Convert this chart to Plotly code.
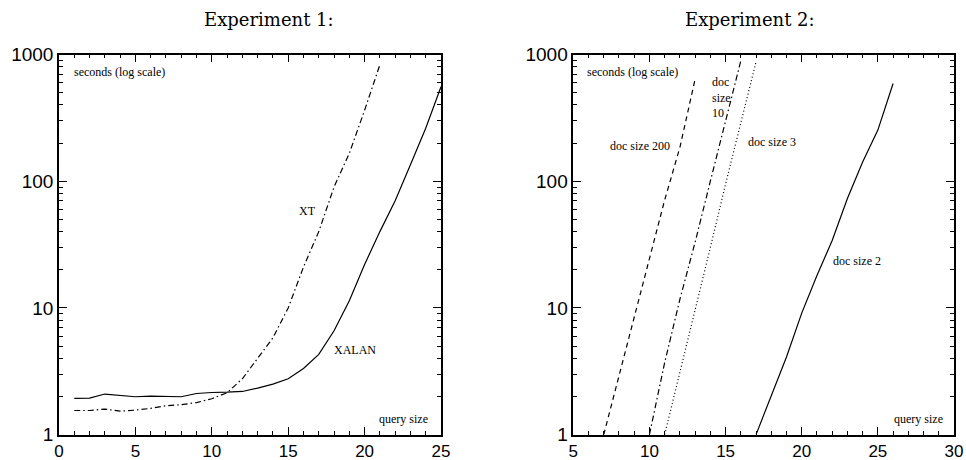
import plotly.graph_objects as go

# ---- data ----
exp1_x = list(range(1, 26))
xt_x = list(range(1, 22))
xt_y = [1.55, 1.55, 1.59, 1.53, 1.56, 1.61, 1.69, 1.72, 1.79, 1.92, 2.14, 2.76,
        4.0, 5.8, 10, 21, 40, 90, 166, 363, 830]
xalan_y = [1.93, 1.94, 2.09, 2.03, 1.99, 2.01, 2.01, 1.99, 2.11, 2.15, 2.16, 2.19,
           2.33, 2.5, 2.76, 3.33, 4.3, 6.6, 11.4, 22, 40, 70, 135, 262, 557]

d200_x = [7, 8, 9, 10, 11, 12, 13]
d200_y = [1.0, 2.9, 8.3, 25, 71, 185, 640]
d10_x = [10, 11, 12, 13, 14, 15, 16]
d10_y = [1.0, 3.7, 11.7, 33, 100, 300, 890]
d3_x = [11, 12, 13, 14, 15, 16, 17]
d3_y = [1.0, 3.05, 9.5, 30, 95, 295, 875]
d2_x = [17, 18, 19, 20, 21, 22, 23, 24, 25, 26]
d2_y = [1.0, 2.0, 4.1, 9.1, 18, 34, 73, 142, 253, 590]

y_ticks = [1, 10, 100, 1000]
y_ticktext = ["1", "10", "100", "1000"]
y_minor = [v * m for m in (1, 10, 100) for v in range(2, 10)]

fig = go.Figure()
lw = 1.2
fig.add_trace(go.Scatter(x=xt_x, y=xt_y, mode="lines", xaxis="x", yaxis="y",
                         line=dict(color="black", width=lw, dash="6px,3px,1.5px,3px")))
fig.add_trace(go.Scatter(x=exp1_x, y=xalan_y, mode="lines", xaxis="x", yaxis="y",
                         line=dict(color="black", width=lw)))
fig.add_trace(go.Scatter(x=d200_x, y=d200_y, mode="lines", xaxis="x2", yaxis="y2",
                         line=dict(color="black", width=lw, dash="5px,4px")))
fig.add_trace(go.Scatter(x=d10_x, y=d10_y, mode="lines", xaxis="x2", yaxis="y2",
                         line=dict(color="black", width=lw, dash="6px,3px,1.5px,3px")))
fig.add_trace(go.Scatter(x=d3_x, y=d3_y, mode="lines", xaxis="x2", yaxis="y2",
                         line=dict(color="black", width=lw, dash="1px,2.5px")))
fig.add_trace(go.Scatter(x=d2_x, y=d2_y, mode="lines", xaxis="x2", yaxis="y2",
                         line=dict(color="black", width=lw)))

W, H = 966, 460
ydom = [1 - 434.6 / H, 1 - 54.5 / H]
ytickfont = dict(family="Liberation Sans, Arial, sans-serif", size=19, color="black")
xtickfont = dict(family="Liberation Sans, Arial, sans-serif", size=17, color="black")

common_x = dict(showline=True, linecolor="black", linewidth=1.5, mirror="ticks",
                ticks="inside", ticklen=8, tickwidth=1.3, tickcolor="black",
                showgrid=False, zeroline=False, tickfont=xtickfont, dtick=5,
                automargin=False, ticklabelstandoff=0,
                minor=dict(ticks="inside", ticklen=4, dtick=1, tickcolor="black",
                           tickwidth=1, showgrid=False))
common_y = dict(type="log", range=[0, 3], showline=True, linecolor="black", linewidth=1.5,
                mirror="ticks", ticks="inside", ticklen=8, tickwidth=1.3, tickcolor="black",
                showgrid=False, zeroline=False, tickfont=ytickfont, automargin=False,
                tickmode="array", tickvals=y_ticks, ticktext=y_ticktext,
                minor=dict(ticks="inside", ticklen=4, tickmode="array", tickvals=y_minor,
                           tickcolor="black", tickwidth=1, showgrid=False),
                domain=ydom)

fig.update_layout(
    width=W, height=H, margin=dict(l=0, r=0, t=0, b=0, autoexpand=False),
    paper_bgcolor="white", plot_bgcolor="white", showlegend=False,
    xaxis=dict(common_x, range=[0, 25], domain=[59 / W, 441 / W], anchor="y"),
    yaxis=dict(common_y, anchor="x"),
    xaxis2=dict(common_x, range=[5, 30], domain=[573.3 / W, 954 / W], anchor="y2"),
    yaxis2=dict(common_y, anchor="x2"),
)

tfont = dict(family="DejaVu Serif, serif", size=18, color="black")
afont = dict(family="Liberation Serif, Times New Roman, serif", size=12, color="black")

fig.add_annotation(text="Experiment 1:", xref="paper", yref="paper", x=268.5 / W, y=1 - 20 / H,
                   showarrow=False, font=tfont, xanchor="center", yanchor="middle")
fig.add_annotation(text="Experiment 2:", xref="paper", yref="paper", x=750 / W, y=1 - 20 / H,
                   showarrow=False, font=tfont, xanchor="center", yanchor="middle")

labels = [
    ("x", "y", 0.85, 2.862, "seconds (log scale)", "left"),
    ("x", "y", 16.26, 1.765, "XT", "center"),
    ("x", "y", 19.4, 0.668, "XALAN", "center"),
    ("x", "y", 22.55, 0.123, "query size", "center"),
    ("x2", "y2", 5.77, 2.862, "seconds (log scale)", "left"),
    ("x2", "y2", 9.38, 2.278, "doc size 200", "center"),
    ("x2", "y2", 13.96, 2.664, "doc<br>size<br>10", "left"),
    ("x2", "y2", 18.05, 2.31, "doc size 3", "center"),
    ("x2", "y2", 23.66, 1.37, "doc size 2", "center"),
    ("x2", "y2", 27.67, 0.123, "query size", "center"),
]
for xr, yr, xv, yv, txt, anc in labels:
    fig.add_annotation(text=txt, xref=xr, yref=yr, x=xv, y=yv, showarrow=False,
                       font=afont, xanchor=anc, yanchor="middle", align="left")

fig.write_html("out.html", config={"displayModeBar": False},
               post_script="document.body.style.margin='0px';document.body.style.overflow='hidden';")
